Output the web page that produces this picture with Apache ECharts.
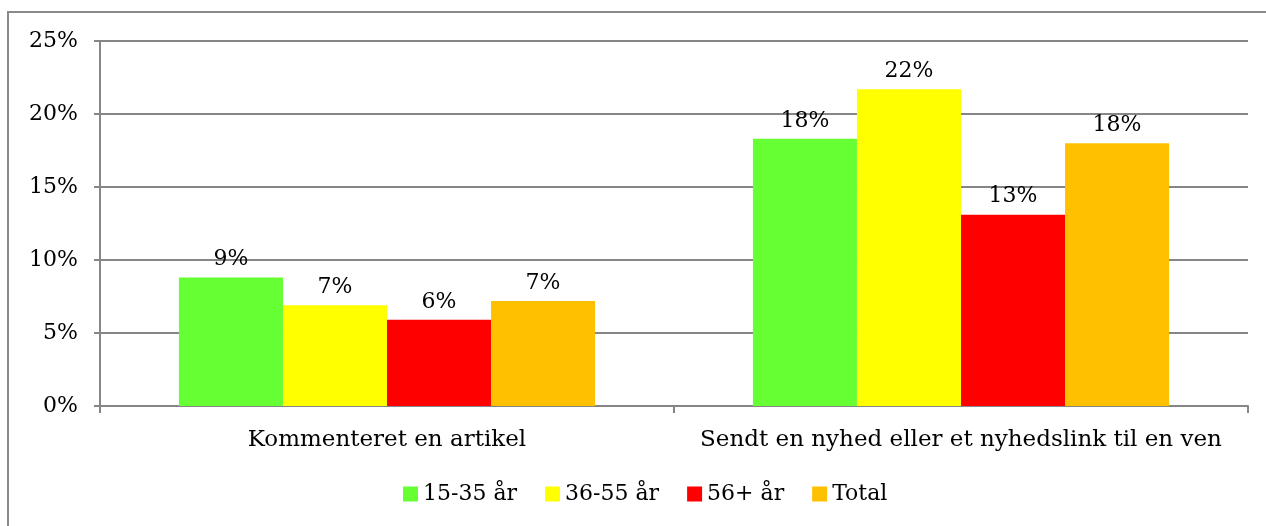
<!DOCTYPE html>
<html>
<head>
<meta charset="utf-8">
<script src="https://cdn.jsdelivr.net/npm/echarts@6/dist/echarts.min.js"></script>
<style>
html,body{margin:0;padding:0;background:#fff;}
#chart{width:1266px;height:526px;}
</style>
</head>
<body>
<div id="chart"></div>
<script>
const categories = ['Kommenteret en artikel', 'Sendt en nyhed eller et nyhedslink til en ven'];
const seriesNames = ['15-35 år', '36-55 år', '56+ år', 'Total'];
const age15to35 = [8.8, 18.3];
const age36to55 = [6.9, 21.7];
const age56plus = [5.9, 13.1];
const total = [7.2, 18.0];
const yTicks = [0, 5, 10, 15, 20, 25];

const colors = ['#66FF33', '#FFFF00', '#FF0000', '#FFC000'];
const FONT = 'DejaVu Serif';
const FS = 22;
const dataSets = [age15to35, age36to55, age56plus, total];

const chart = echarts.init(document.getElementById('chart'));
chart.setOption({
  animation: false,
  backgroundColor: '#ffffff',
  textStyle: { fontFamily: FONT },
  graphic: [{
    type: 'rect',
    shape: { x: 8, y: 12, width: 1400, height: 700 },
    style: { fill: 'none', stroke: '#8a8a8a', lineWidth: 2 },
    silent: true
  }],
  grid: { left: 100, right: 18, top: 41, bottom: 120, containLabel: false },
  legend: {
    top: 483,
    left: 403,
    padding: 0,
    itemWidth: 15,
    itemHeight: 15,
    itemGap: 28,
    icon: 'rect',
    textStyle: { fontFamily: FONT, fontSize: FS, color: '#000' },
    data: seriesNames
  },
  xAxis: {
    type: 'category',
    data: categories,
    axisLine: { lineStyle: { color: '#868686', width: 2 } },
    axisTick: { show: true, interval: 0, length: 7, lineStyle: { color: '#868686', width: 2 } },
    axisLabel: { interval: 0, fontFamily: FONT, fontSize: 23, color: '#000', margin: 23 }
  },
  yAxis: {
    type: 'value',
    min: yTicks[0],
    max: yTicks[yTicks.length - 1],
    interval: 5,
    axisLine: { show: true, lineStyle: { color: '#868686', width: 2 } },
    axisTick: { show: true, length: 6, lineStyle: { color: '#868686', width: 2 } },
    splitLine: { lineStyle: { color: '#868686', width: 2 } },
    axisLabel: { fontFamily: FONT, fontSize: FS, color: '#000', margin: 22, formatter: v => v + '%' }
  },
  series: seriesNames.map((name, i) => ({
    name: name,
    type: 'bar',
    data: dataSets[i],
    barGap: '0%',
    barCategoryGap: '27.5%',
    itemStyle: { color: colors[i] },
    label: {
      show: true,
      position: 'top',
      distance: 7,
      fontFamily: FONT,
      fontSize: FS,
      color: '#000',
      formatter: p => Math.round(p.value) + '%'
    }
  }))
});
</script>
</body>
</html>
